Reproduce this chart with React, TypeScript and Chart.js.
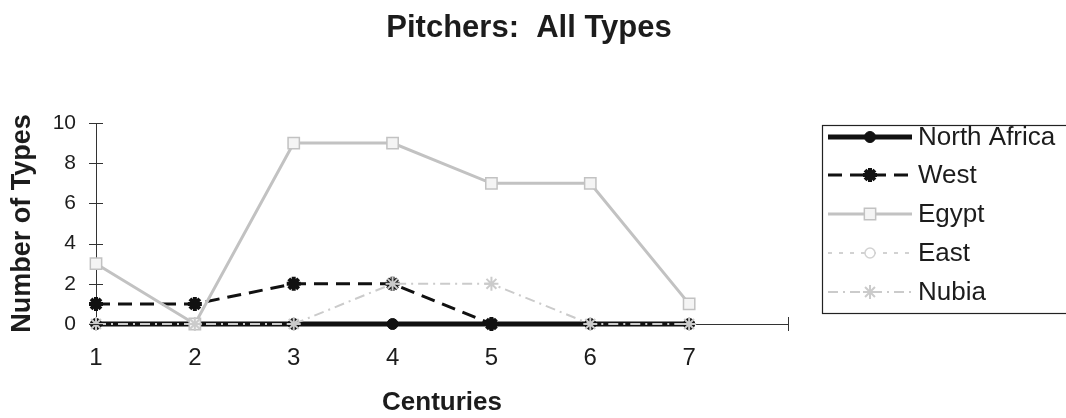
import React, { useEffect, useRef } from "react";
import { Chart, registerables } from "chart.js";

Chart.register(...registerables);

const centuries = [1, 2, 3, 4, 5, 6, 7];
const northAfrica = [0, 0, 0, 0, 0, 0, 0];
const west = [1, 1, 2, 2, 0, null, null];
const egypt = [3, 0, 9, 9, 7, 7, 1];
const east = [0, 0, 0, 0, 0, 0, 0];
const nubia = [0, 0, 0, 2, 2, 0, 0];
const yTicks = [0, 2, 4, 6, 8, 10];
const titleText = "Pitchers:  All Types";

const FONT = "'Liberation Sans', Arial, sans-serif";
const TEXT = "#1c1c1c";

type Style = {
  label: string;
  data: (number | null)[];
  color: string;
  width: number;
  dash: number[];
  point: "circle" | "star" | "rect";
  radius: number;
  fill: string;
  pbw: number;
  order: number;
};

const series: Style[] = [
  { label: "North Africa", data: northAfrica, color: "#111111", width: 5, dash: [], point: "circle", radius: 5.5, fill: "#111111", pbw: 1, order: 4 },
  { label: "West", data: west, color: "#111111", width: 3, dash: [14, 8], point: "star", radius: 7, fill: "#111111", pbw: 4, order: 3 },
  { label: "Egypt", data: egypt, color: "#c2c2c2", width: 3, dash: [], point: "rect", radius: 8, fill: "#f4f4f4", pbw: 1.5, order: 2 },
  { label: "East", data: east, color: "#d2d2d2", width: 2, dash: [4, 7], point: "circle", radius: 5, fill: "#ffffff", pbw: 1.5, order: 5 },
  { label: "Nubia", data: nubia, color: "#cbcbcb", width: 2, dash: [10, 5, 2, 5], point: "star", radius: 7, fill: "#cbcbcb", pbw: 2, order: 1 },
];

function drawMarker(ctx: CanvasRenderingContext2D, s: Style, x: number, y: number) {
  ctx.save();
  ctx.setLineDash([]);
  ctx.strokeStyle = s.color;
  ctx.fillStyle = s.fill;
  ctx.lineWidth = s.pbw;
  const r = s.radius;
  ctx.beginPath();
  if (s.point === "circle") {
    ctx.arc(x, y, r, 0, Math.PI * 2);
    ctx.fill();
    ctx.stroke();
  } else if (s.point === "rect") {
    const h = r * Math.SQRT1_2;
    ctx.rect(x - h, y - h, 2 * h, 2 * h);
    ctx.fill();
    ctx.stroke();
  } else {
    for (let i = 0; i < 4; i++) {
      const a = (i * Math.PI) / 4;
      ctx.moveTo(x - Math.cos(a) * r, y - Math.sin(a) * r);
      ctx.lineTo(x + Math.cos(a) * r, y + Math.sin(a) * r);
    }
    ctx.stroke();
  }
  ctx.restore();
}

const decorPlugin = {
  id: "decor",
  afterDraw(chart: any) {
    const ctx: CanvasRenderingContext2D = chart.ctx;
    const ys = chart.scales.y;
    const xs = chart.scales.x;
    ctx.save();
    // title
    ctx.fillStyle = TEXT;
    ctx.font = `bold 31px ${FONT}`;
    ctx.textAlign = "center";
    ctx.textBaseline = "middle";
    ctx.fillText(titleText, 529, 28);

    ctx.strokeStyle = "#333";
    ctx.lineWidth = 1;
    ctx.beginPath();
    for (const v of yTicks) {
      const py = Math.round(ys.getPixelForValue(v)) + 0.5;
      ctx.moveTo(xs.left - 7, py);
      ctx.lineTo(xs.left + 7, py);
    }
    const ex = Math.round(xs.getPixelForValue(8)) + 0.5;
    ctx.moveTo(ex, ys.bottom - 7);
    ctx.lineTo(ex, ys.bottom + 7);
    ctx.stroke();

    // legend
    const bx = 822.5, by = 125.5, bw = 260, bh = 188;
    ctx.strokeStyle = "#222";
    ctx.lineWidth = 1.2;
    ctx.strokeRect(bx, by, bw, bh);
    const rows = [137, 175, 214, 253, 292];
    series.forEach((s, i) => {
      const y = rows[i];
      ctx.save();
      ctx.strokeStyle = s.color;
      ctx.lineWidth = s.width;
      ctx.setLineDash(s.dash);
      ctx.beginPath();
      ctx.moveTo(828, y);
      ctx.lineTo(912, y);
      ctx.stroke();
      ctx.restore();
      drawMarker(ctx, s, 870, y);
      ctx.fillStyle = TEXT;
      ctx.font = `26px ${FONT}`;
      ctx.textBaseline = "middle";
      ctx.textAlign = "left";
      ctx.fillText(s.label, 918, y + 1);
    });
    ctx.restore();
  },
};

export default function App() {
  const ref = useRef<HTMLCanvasElement | null>(null);
  useEffect(() => {
    if (!ref.current) return;
    const chart = new Chart(ref.current, {
      type: "line",
      data: {
        datasets: series.map((s) => ({
          label: s.label,
          data: centuries.map((c, i) => ({ x: c, y: s.data[i] })),
          borderColor: s.color,
          borderWidth: s.width,
          borderDash: s.dash,
          pointStyle: s.point,
          pointRadius: s.radius,
          pointBackgroundColor: s.fill,
          pointBorderColor: s.color,
          pointBorderWidth: s.pbw,
          spanGaps: false,
          tension: 0,
          clip: false,
          order: s.order,
        })) as any,
      },
      options: {
        animation: false,
        responsive: true,
        maintainAspectRatio: false,
        layout: { padding: { top: 123, right: 278, bottom: 0, left: 0 } },
        plugins: {
          legend: { display: false },
          tooltip: { enabled: false },
          title: { display: false },
        },
        scales: {
          x: {
            type: "linear",
            min: 1,
            max: 8,
            afterFit: (s: any) => { s.height = 94; },
            ticks: {
              stepSize: 1,
              color: TEXT,
              font: { family: FONT, size: 24 },
              padding: 20,
              maxRotation: 0,
              callback: (v: any) => (v >= 8 ? "" : String(v)),
            },
            grid: { display: false, drawTicks: false },
            border: { display: true, color: "#333", width: 1 },
            title: {
              display: true,
              text: "Centuries",
              color: TEXT,
              font: { family: FONT, size: 26, weight: "bold" },
              padding: { top: 0, bottom: 0 },
            },
          },
          y: {
            min: 0,
            max: 10,
            afterFit: (s: any) => { s.width = 96; },
            ticks: {
              stepSize: 2,
              color: TEXT,
              font: { family: FONT, size: 21 },
              padding: 20,
            },
            grid: { display: false, drawTicks: false },
            border: { display: true, color: "#333", width: 1 },
            title: {
              display: true,
              text: "Number of Types",
              color: TEXT,
              font: { family: FONT, size: 27, weight: "bold" },
              padding: { top: 6, bottom: 0 },
            },
          },
        },
      } as any,
      plugins: [decorPlugin],
    });
    return () => chart.destroy();
  }, []);
  return (
    <div style={{ position: "absolute", left: 0, top: 0, width: 1066, height: 418, background: "#fff" }}>
      <canvas ref={ref} />
    </div>
  );
}
